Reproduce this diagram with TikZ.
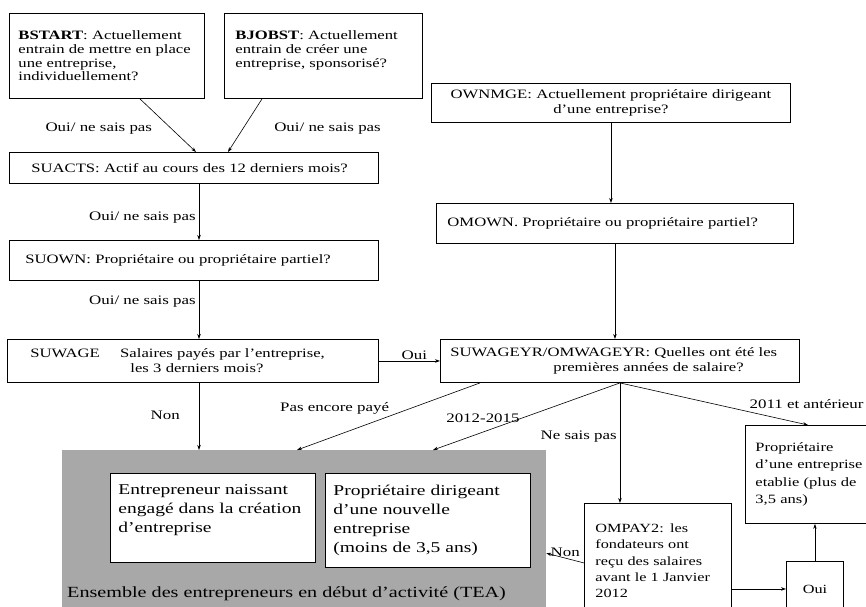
\documentclass[tikz,border=0pt]{standalone}
\usepackage{fontspec}
\setmainfont{Liberation Serif}[FakeStretch=1.3]
\usetikzlibrary{arrows.meta, positioning, calc}
\definecolor{teagray}{RGB}{168,168,168}
\tikzset{
  flow arrow/.style={
    ->, >={Stealth[length=5pt, width=3.5pt]}, % arrow tip style
    line width=0.6pt,                         % thin connectors
  },
  qbox/.style={draw, line width=0.9pt, anchor=north west, align=left,
    inner ysep=0pt, font=\fontsize{12.8}{13.7}\selectfont},
  resultbox/.style={qbox, fill=white, font=\fontsize{15}{19}\selectfont},
  tag/.style={inner sep=1pt, font=\fontsize{13}{14}\selectfont},
}

\begin{document}
\begin{tikzpicture}[x=1pt, y=-1pt]
    % fixed frame of the picture
    \useasboundingbox (0,0) rectangle (866,606);
    \clip (0,0) rectangle (866,606);

    % grey group of early stage entrepreneurs, with its two boxes
    \node[fill=teagray, anchor=north west, inner sep=0pt,
      minimum width=484pt, minimum height=170pt] (tea) at (62,450) {};
    \node[anchor=base west, inner sep=0pt, font=\fontsize{15.5}{18}\selectfont]
      (teatext) at (67,597) {Ensemble des entrepreneurs en début d'activité (TEA)};
    \node[resultbox, text width=189pt, inner xsep=8pt, minimum height=89pt] (tea1) at (110,473)
      {Entrepreneur naissant\\engagé dans la création\\d'entreprise\\\mbox{}};
    \node[resultbox, text width=189pt, inner xsep=8pt, minimum height=94pt] (tea2) at (325,473)
      {Propriétaire dirigeant\\d'une nouvelle\\entreprise\\(moins de 3,5 ans)};

    % questions on the left (start-up side)
    \node[qbox, text width=177pt, inner xsep=9pt, minimum height=85pt] (bstart) at (9,13)
      {\textbf{BSTART}: Actuellement\\entrain de mettre en place\\une entreprise,\\individuellement?};
    \node[qbox, text width=176pt, inner xsep=11pt, minimum height=85pt] (bjobst) at (224,13)
      {\textbf{BJOBST}: Actuellement\\entrain de créer une\\entreprise, sponsorisé?\\\mbox{}};
    \node[qbox, text width=325pt, inner xsep=22pt, minimum height=31pt] (suacts) at (9,152)
      {SUACTS: Actif au cours des 12 derniers mois?};
    \node[qbox, text width=337pt, inner xsep=16pt, minimum height=40pt] (suown) at (9,240)
      {SUOWN: Propriétaire ou propriétaire partiel?};
    \node[qbox, text width=325pt, inner xsep=23pt, minimum height=43pt,
      font=\fontsize{12.8}{15}\selectfont] (suwage) at (7,339)
      {SUWAGE\hspace{1.6em}Salaires payés par l'entreprise,\\\hspace*{100pt}les 3 derniers mois?};

    % questions on the right (owner side)
    \node[qbox, text width=339pt, inner xsep=10pt, minimum height=39pt, align=center,
      font=\fontsize{12.8}{15}\selectfont] (ownmge) at (431,83)
      {OWNMGE: Actuellement propriétaire dirigeant\\d'une entreprise?};
    \node[qbox, text width=335pt, inner xsep=11pt, minimum height=40pt] (omown) at (436,203)
      {OMOWN. Propriétaire ou propriétaire partiel?};
    \node[qbox, text width=339pt, inner xsep=10pt, minimum height=43pt,
      font=\fontsize{12.8}{15}\selectfont] (suwageyr) at (440,339)
      {SUWAGEYR/OMWAGEYR: Quelles ont été les\\\hspace*{103pt}premières années de salaire?};

    % bottom right boxes
    \node[qbox, fill=white, text width=120pt, inner xsep=10pt, minimum height=98pt,
      font=\fontsize{12.7}{17.5}\selectfont] (prop) at (745,425)
      {Propriétaire\\d'une entreprise\\etablie (plus de\\3,5 ans)};
    \node[qbox, text width=125pt, inner xsep=11pt, minimum height=115pt,
      font=\fontsize{12.5}{16.3}\selectfont] (ompay2) at (584,503)
      {OMPAY2: les\\fondateurs ont\\reçu des salaires\\avant le 1 Janvier\\2012};
    \node[qbox, align=center, minimum width=57pt, minimum height=55pt,
      font=\fontsize{12.5}{14}\selectfont] (oui) at (786,561) {Oui};

    % connectors, left column
    \draw[flow arrow] ($(bstart.south west)+(131,0)$) -- ($(suacts.north west)+(187,0)$)
      node[tag, pos=0.56, left=18pt] (l1) {Oui/ ne sais pas};
    \draw[flow arrow] ($(bjobst.south west)+(38,0)$) -- ($(suacts.north west)+(219,0)$)
      node[tag, pos=0.56, right=30pt] (l2) {Oui/ ne sais pas};
    \draw[flow arrow] ($(suacts.south west)+(190,0)$) -- ($(suown.north west)+(190,0)$)
      node[tag, pos=0.6, left=2pt] (l3) {Oui/ ne sais pas};
    \draw[flow arrow] ($(suown.south west)+(190,0)$) -- ($(suwage.north west)+(192,0)$)
      node[tag, pos=0.36, left=2pt] (l4) {Oui/ ne sais pas};
    \draw[flow arrow] (suwage.east) -- (suwage.east -| suwageyr.west)
      node[tag, pos=0.58, above=0pt] (l5) {Oui};
    \draw[flow arrow] ($(suwage.south west)+(192,0)$) -- ($(tea.north west)+(137,0)$)
      node[tag, pos=0.49, left=18pt] (l6) {Non};

    % connectors, right column
    \draw[flow arrow] (ownmge.south) -- (ownmge.south |- omown.north);
    \draw[flow arrow] (omown.south) -- (omown.south |- suwageyr.north);

    % answers to the year of first wages
    \draw[flow arrow] ($(suwageyr.south west)+(40,0)$) -- ($(tea.north west)+(235,0)$)
      node[tag, pos=0.49, anchor=south east] (l7) {Pas encore payé};
    \draw[flow arrow] (suwageyr.south) -- ($(tea.north west)+(371,0)$)
      node[tag, pos=0.53, anchor=east] (l8) {2012-2015};
    \draw[flow arrow] (suwageyr.south) -- (suwageyr.south |- ompay2.north)
      node[tag, pos=0.45, left=2pt] (l9) {Ne sais pas};
    \draw[flow arrow] (suwageyr.south) -- ($(prop.north west)+(63,0)$)
      node[tag, pos=0.72, anchor=south west, xshift=-7pt, yshift=3pt] (l10) {2011 et antérieur};

    % wages before 2012?
    \draw[flow arrow] ($(ompay2.west)+(0,2)$) -- ($(tea.east)+(0,18)$)
      node[tag, pos=0.5, above=0pt] (l11) {Non};
    \draw[flow arrow] (ompay2.east |- oui.west) -- (oui.west);
    \draw[flow arrow] (oui.north) -- (oui.north |- prop.south);
\end{tikzpicture}
\end{document}
